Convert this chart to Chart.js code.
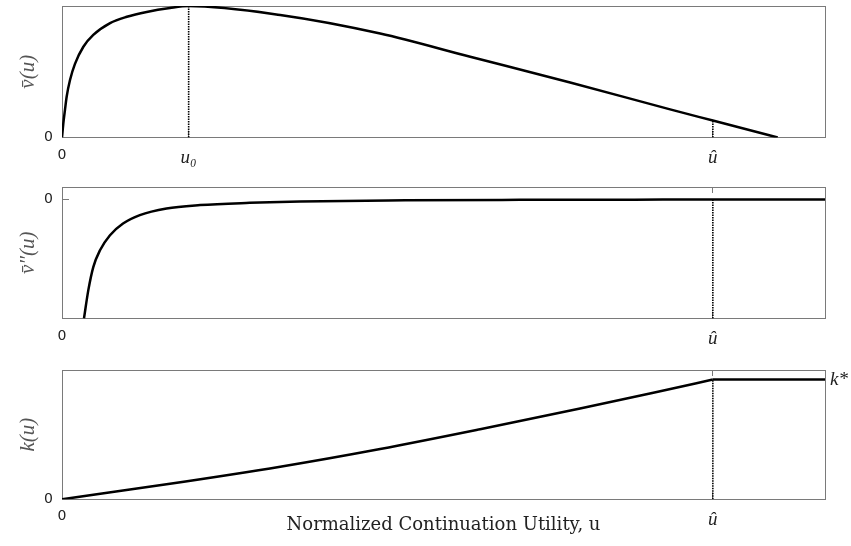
<!DOCTYPE html>
<html>
<head>
<meta charset="utf-8">
<script src="https://cdn.jsdelivr.net/npm/chart.js@4.4.1/dist/chart.umd.min.js"></script>
<style>
  body { margin: 0; background: #fff; }
  #wrap { position: relative; width: 851px; height: 546px; }
  canvas { position: absolute; left: 0; display: block; }
</style>
</head>
<body>
<div id="wrap">
  <canvas id="c1" width="851" height="170" style="top:0px"></canvas>
  <canvas id="c2" width="851" height="180" style="top:170px"></canvas>
  <canvas id="c3" width="851" height="196" style="top:350px"></canvas>
</div>
<script>
// key points on the u axis
const U0 = 0.166;
const UHAT = 0.853;

// top panel: value function v(u)
const uV   = [0, 0.002, 0.0039, 0.0061, 0.0105, 0.017, 0.028, 0.041, 0.063, 0.085, 0.111, 0.1415, 0.166, 0.286, 0.417, 0.535, 0.666, 0.797, 0.853, 0.938];
const vBar = [0, 0.12, 0.21, 0.31, 0.437, 0.56, 0.69, 0.78, 0.87, 0.918, 0.955, 0.985, 1.0, 0.932, 0.791, 0.614, 0.418, 0.214, 0.129, 0];

// middle panel: second derivative v''(u)
const uD  = [0.0288, 0.0345, 0.041, 0.0498, 0.0629, 0.080, 0.102, 0.137, 0.181, 0.246, 0.312, 0.45, 0.6, 0.75, 0.853, 1.0];
const vDD = [-1, -0.762, -0.568, -0.427, -0.301, -0.203, -0.132, -0.076, -0.048, -0.029, -0.017, -0.008, -0.004, -0.002, 0, 0];

// bottom panel: k(u) rising part, then flat at k*
const uK    = [0, 0.137, 0.286, 0.417, 0.548, 0.679, 0.784, 0.853];
const kVals = [0, 0.125, 0.272, 0.42, 0.585, 0.758, 0.903, 1.0];
const uKFlat = [0.853, 1.0];
const kFlat  = [1.0, 1.0];

// tick labels
const xTicks1 = [0, U0, UHAT];
const xLabels1 = ["0", "u\u2080", "u\u0302"];
const xTicks23 = [0, UHAT];
const xLabels23 = ["0", "u\u0302"];

const FRAME = "#7a7a7a";
const SERIF = "'DejaVu Serif', 'Liberation Serif', serif";
const SANS = "'DejaVu Sans', sans-serif";

function pts(xs, ys) {
  return xs.map((x, i) => ({x: x, y: ys[i]}));
}

function curve(data) {
  return {
    data: data,
    borderColor: "#000",
    borderWidth: 2.5,
    pointRadius: 0,
    fill: false,
    cubicInterpolationMode: "monotone"
  };
}

function dotted(x, y0, y1) {
  return {
    data: [{x: x, y: y0}, {x: x, y: y1}],
    borderColor: "#000",
    borderWidth: 1.6,
    borderDash: [1.5, 1],
    pointRadius: 0,
    fill: false
  };
}

function tickFont(ctx) {
  if (ctx.tick && ctx.tick.value === 0) return {family: SANS, size: 14};
  return {family: "'Liberation Serif', serif", size: 19, style: "italic"};
}

// drop the extra padding chart.js reserves for tick labels
function noPad(s) {
  s.paddingTop = 0; s.paddingBottom = 0; s.paddingLeft = 0; s.paddingRight = 0;
}

function makeChart(id, opt) {
  const scales = {
    x: {
      type: "linear", min: 0, max: 1,
      afterBuildTicks: s => { s.ticks = opt.xTicks.map(v => ({value: v})); },
      afterFit: s => { s.height = opt.xHeight; noPad(s); },
      grid: {display: true, drawOnChartArea: false, drawTicks: true, tickLength: -7, color: FRAME},
      border: {display: true, color: FRAME, width: 1},
      ticks: {
        autoSkip: false, maxRotation: 0, padding: 16, color: "#222",
        font: tickFont,
        callback: (v, i) => opt.xLabels[i]
      },
      title: opt.xTitle ? {
        display: true, text: opt.xTitle, color: "#222",
        font: {family: SERIF, size: 18}, padding: {top: 0, bottom: 10}
      } : {display: false}
    },
    x2: {
      type: "linear", position: "top", min: 0, max: 1,
      afterBuildTicks: s => { s.ticks = opt.topTicks.map(v => ({value: v})); },
      afterFit: s => { s.height = 0; noPad(s); },
      grid: {display: true, drawOnChartArea: false, drawTicks: true, tickLength: -6, color: FRAME},
      border: {display: true, color: FRAME, width: 1},
      ticks: {display: false}
    },
    y: {
      type: "linear", min: opt.yMin, max: opt.yMax,
      afterBuildTicks: s => { s.ticks = [{value: 0}]; },
      afterFit: s => { s.width = 62; noPad(s); },
      grid: {display: true, drawOnChartArea: false, drawTicks: true, tickLength: -7, color: FRAME},
      border: {display: true, color: FRAME, width: 1},
      ticks: {padding: 16, color: "#222", font: {family: SANS, size: 14}},
      title: {
        display: true, text: opt.yTitle, color: "#555",
        font: {family: "'Liberation Serif', serif", size: 21, style: "italic"}, padding: {top: 16, bottom: 0}
      }
    },
    y2: {
      type: "linear", position: "right", min: opt.yMin, max: opt.yMax,
      afterBuildTicks: s => { s.ticks = opt.rightTicks.map(v => ({value: v})); },
      afterFit: s => { s.width = 26; noPad(s); },
      grid: {display: true, drawOnChartArea: false, drawTicks: true, tickLength: -6, color: FRAME},
      border: {display: true, color: FRAME, width: 1},
      ticks: {
        display: opt.rightLabels.length > 0, padding: 11, color: "#222",
        font: {family: "'Liberation Serif', serif", size: 19, style: "italic"},
        callback: (v, i) => opt.rightLabels[i]
      }
    }
  };
  return new Chart(id, {
    type: "line",
    data: {datasets: opt.datasets},
    options: {
      responsive: false,
      animation: false,
      layout: {padding: {top: opt.padTop, left: 0, right: 0, bottom: 0}},
      plugins: {legend: {display: false}, tooltip: {enabled: false}},
      scales: scales
    }
  });
}

makeChart("c1", {
  padTop: 6, xHeight: 32.5, yMin: 0, yMax: 1,
  xTicks: xTicks1, xLabels: xLabels1, topTicks: [], rightTicks: [], rightLabels: [],
  yTitle: "v\u0304(u)",
  datasets: [
    dotted(U0, 0, vBar[uV.indexOf(U0)]),
    dotted(UHAT, 0, vBar[uV.indexOf(UHAT)]),
    curve(pts(uV, vBar))
  ]
});

makeChart("c2", {
  padTop: 17, xHeight: 31.5, yMin: -1, yMax: 0.104,
  xTicks: xTicks23, xLabels: xLabels23, topTicks: [UHAT], rightTicks: [], rightLabels: [],
  yTitle: "v\u0304\u2033(u)",
  datasets: [
    dotted(UHAT, -1, 0),
    curve(pts(uD, vDD))
  ]
});

makeChart("c3", {
  padTop: 20, xHeight: 46.7, yMin: 0, yMax: 1.08,
  xTicks: xTicks23, xLabels: xLabels23, topTicks: [UHAT], rightTicks: [1], rightLabels: ["k*"],
  yTitle: "k(u)",
  xTitle: "Normalized Continuation Utility, u",
  datasets: [
    dotted(UHAT, 0, kVals[uK.indexOf(UHAT)]),
    curve(pts(uK, kVals)),
    curve(pts(uKFlat, kFlat))
  ]
});
</script>
</body>
</html>
